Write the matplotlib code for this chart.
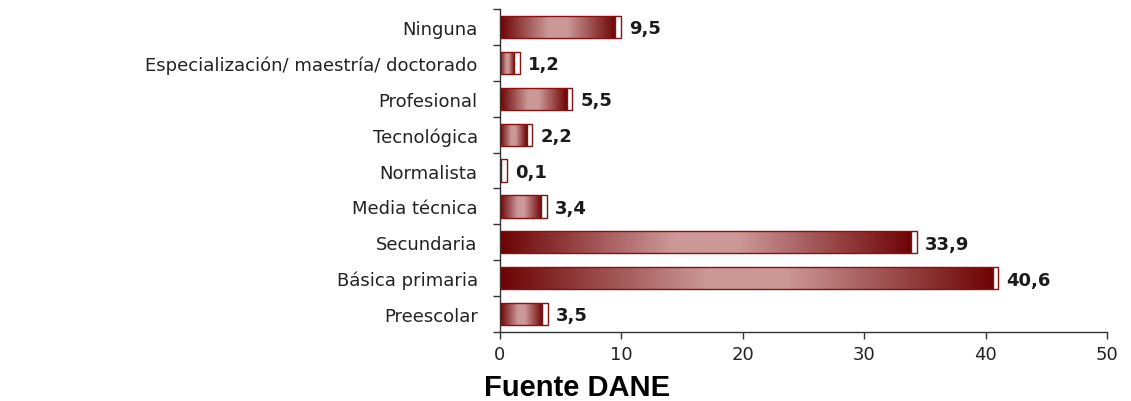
import numpy as np
import matplotlib
matplotlib.use("Agg")
import matplotlib.pyplot as plt
from matplotlib.colors import LinearSegmentedColormap
from matplotlib.patches import Rectangle

categories = ["Ninguna", "Especialización/ maestría/ doctorado", "Profesional",
              "Tecnológica", "Normalista", "Media técnica", "Secundaria",
              "Básica primaria", "Preescolar"]
values = [9.5, 1.2, 5.5, 2.2, 0.1, 3.4, 33.9, 40.6, 3.5]
value_labels = ["9,5", "1,2", "5,5", "2,2", "0,1", "3,4", "33,9", "40,6", "3,5"]
xticks = [0, 10, 20, 30, 40, 50]
source = "Fuente DANE"

fig = plt.figure(figsize=(11.31, 4.02), dpi=100)
ax = fig.add_axes([0.442, 0.1716, 0.5367, 0.8034])

cmap = LinearSegmentedColormap.from_list(
    "cyl", [(0.0, "#6c0303"), (0.42, "#cc9898"), (0.58, "#cc9898"), (1.0, "#6e0404")])
grad = np.linspace(0, 1, 256).reshape(1, -1)

n = len(categories)
ypos = np.arange(n)[::-1]
h = 0.62
cap = 0.45
edge = "#8b0f0f"

for y, v, lab in zip(ypos, values, value_labels):
    bars = ax.barh(y, v, height=h, left=0, color="none", edgecolor=edge, linewidth=1.0, zorder=3)
    patch = bars.patches[0]
    if v > 0.2:
        im = ax.imshow(grad, extent=[0, v, y - h / 2, y + h / 2], aspect="auto",
                       cmap=cmap, interpolation="bilinear", zorder=2)
        im.set_clip_path(patch)
    ax.add_patch(Rectangle((v, y - h / 2), cap, h, facecolor="white",
                           edgecolor=edge, linewidth=1.0, zorder=4))
    ax.annotate(lab, xy=(v + cap, y), xytext=(6, -1), textcoords="offset points",
                ha="left", va="center", fontsize=13, fontweight="bold",
                family="DejaVu Sans", color="#1a1a1a")

ax.set_xlim(0, 50)
ax.set_ylim(-0.5, n - 0.5)
ax.set_xticks(xticks)
ax.set_xticklabels([str(t) for t in xticks], fontsize=13, family="DejaVu Sans", color="#222222")
ax.set_yticks(ypos)
ax.set_yticklabels(categories, fontsize=13, family="DejaVu Sans", color="#222222")
ax.set_yticks(np.arange(-0.5, n, 1.0), minor=True)
ax.tick_params(axis="y", which="major", length=0, pad=16)
ax.tick_params(axis="y", which="minor", length=5, width=1, color="#333333")
ax.tick_params(axis="x", which="major", length=5, width=1, color="#333333", pad=4)
for s in ["top", "right"]:
    ax.spines[s].set_visible(False)
for s in ["left", "bottom"]:
    ax.spines[s].set_color("#333333")
    ax.spines[s].set_linewidth(1.0)
ax.spines["left"].set_zorder(5)

fig.text(577 / 1131, 1 - 396 / 402, source, ha="center", va="baseline",
         fontsize=21, fontweight="bold", family="Liberation Sans", color="#000000")

fig.savefig("out.png", dpi=100)
